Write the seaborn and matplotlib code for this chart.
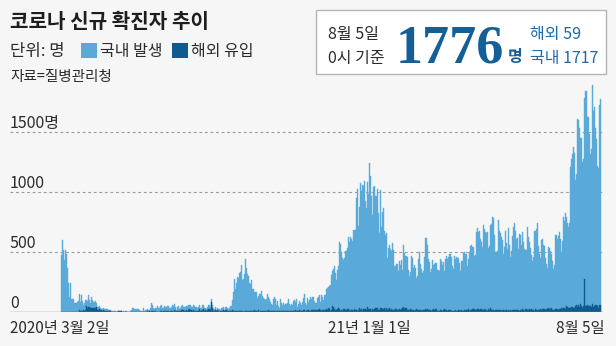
import itertools
import numpy as np
import pandas as pd
import matplotlib
matplotlib.use("Agg")
import matplotlib.pyplot as plt
import matplotlib.transforms as mtransforms
from matplotlib.patches import Rectangle
import seaborn as sns

# ---------------- data: daily new cases (0시 기준), 2020-03-02 .. 2021-08-05 ----------------
total_2020_03 = [476, 600, 516, 438, 518, 483, 367, 248, 131, 242, 114, 110, 107, 76, 74, 84, 93, 152, 87, 147,
                 98, 64, 76, 100, 104, 91, 146, 105, 78, 125]
total_2020_04 = [101, 89, 86, 94, 81, 47, 47, 53, 39, 27, 30, 32, 25, 27, 27, 22, 22, 18, 8, 13,
                 9, 11, 8, 6, 10, 10, 10, 14, 9, 4]
total_2020_05 = [9, 6, 13, 8, 3, 2, 4, 12, 18, 34, 35, 27, 26, 29, 27, 19, 13, 15, 13, 32,
                 12, 20, 23, 25, 16, 19, 40, 79, 58, 39, 27]
total_2020_06 = [35, 38, 49, 39, 39, 51, 57, 38, 38, 50, 45, 56, 49, 37, 34, 43, 59, 49, 67, 48,
                 17, 46, 51, 28, 39, 51, 62, 42, 42, 43]
total_2020_07 = [51, 54, 63, 63, 61, 48, 44, 63, 50, 45, 35, 44, 62, 33, 39, 61, 60, 39, 34, 26,
                 45, 63, 59, 41, 113, 58, 25, 28, 48, 18, 36]
total_2020_08 = [31, 30, 23, 34, 33, 43, 20, 43, 36, 28, 34, 54, 56, 103, 166, 279, 197, 246, 297, 288,
                 324, 332, 397, 266, 280, 320, 441, 371, 323, 299, 248]
total_2020_09 = [235, 267, 195, 198, 168, 167, 119, 136, 156, 155, 176, 136, 121, 109, 106, 113, 153, 126, 110, 82,
                 70, 61, 110, 125, 114, 61, 95, 50, 38, 113]
total_2020_10 = [77, 63, 75, 64, 73, 75, 114, 69, 54, 72, 58, 97, 102, 84, 110, 47, 73, 91, 76, 58,
                 89, 121, 155, 77, 61, 119, 88, 103, 125, 114, 127]
total_2020_11 = [124, 97, 75, 118, 125, 145, 89, 143, 126, 100, 146, 143, 191, 205, 208, 223, 230, 313, 343, 363,
                 386, 330, 271, 349, 382, 583, 569, 503, 450, 438]
total_2020_12 = [451, 511, 540, 629, 583, 631, 615, 594, 686, 682, 689, 950, 1030, 718, 880, 1078, 1014, 1062, 1053, 1097,
                 926, 867, 1090, 985, 1241, 1132, 970, 808, 1045, 1050, 967]
total_2021_01 = [1029, 824, 657, 1020, 715, 840, 869, 674, 641, 665, 451, 537, 562, 524, 513, 580, 520, 389, 386, 404,
                 401, 346, 431, 392, 437, 349, 559, 497, 469, 458, 355]
total_2021_02 = [305, 336, 467, 451, 370, 393, 372, 289, 303, 444, 504, 403, 362, 326, 344, 457, 621, 621, 561, 448,
                 416, 332, 357, 440, 396, 406, 415, 355]
total_2021_03 = [355, 344, 444, 424, 398, 416, 346, 446, 470, 446, 465, 488, 490, 459, 382, 363, 469, 445, 463, 452,
                 456, 415, 346, 428, 430, 494, 505, 482, 382, 447, 506]
total_2021_04 = [551, 557, 543, 543, 473, 478, 668, 700, 671, 677, 614, 587, 542, 731, 698, 673, 658, 672, 532, 549,
                 731, 735, 797, 785, 644, 500, 512, 769, 680, 661]
total_2021_05 = [627, 606, 488, 541, 676, 574, 525, 701, 564, 463, 511, 635, 715, 747, 681, 610, 619, 528, 654, 646,
                 561, 666, 585, 530, 516, 707, 629, 587, 533, 480, 430]
total_2021_06 = [459, 677, 681, 695, 744, 556, 485, 454, 602, 611, 565, 556, 452, 399, 373, 545, 540, 507, 482, 429,
                 357, 395, 645, 610, 634, 668, 614, 501, 595, 794]
total_2021_07 = [762, 826, 794, 743, 711, 746, 1212, 1275, 1316, 1378, 1324, 1100, 1150, 1615, 1600, 1536, 1452, 1454, 1252, 1278,
                 1784, 1842, 1630, 1629, 1487, 1318, 1365, 1896, 1674, 1710, 1539]
total_2021_08 = [1442, 1219, 1202, 1725, 1776]

overseas_2020_03 = [2, 1, 1, 0, 3, 1, 2, 1, 3, 2, 6, 4, 2, 6, 3, 5, 6, 17, 13, 13,
                    14, 19, 14, 21, 51, 39, 41, 41, 39, 38]
overseas_2020_04 = [36, 36, 37, 40, 41, 22, 22, 29, 18, 18, 15, 16, 14, 11, 11, 10, 10, 8, 4, 6,
                    5, 5, 4, 4, 6, 9, 7, 9, 8, 2]
overseas_2020_05 = [6, 3, 5, 5, 1, 2, 1, 3, 1, 4, 6, 1, 1, 4, 4, 4, 4, 5, 1, 3,
                    1, 5, 4, 9, 0, 11, 3, 11, 9, 9, 6]
overseas_2020_06 = [10, 6, 3, 5, 3, 8, 8, 2, 8, 9, 7, 8, 13, 3, 10, 9, 13, 5, 18, 11,
                    7, 12, 9, 10, 11, 19, 19, 20, 12, 12]
overseas_2020_07 = [16, 10, 19, 27, 18, 22, 11, 23, 15, 12, 14, 9, 26, 11, 8, 19, 26, 12, 16, 11,
                    19, 30, 27, 16, 86, 33, 14, 13, 18, 10, 19]
overseas_2020_08 = [11, 4, 8, 14, 13, 21, 11, 21, 11, 8, 14, 12, 9, 18, 11, 12, 9, 11, 9, 14,
                    9, 10, 10, 8, 6, 12, 7, 12, 15, 11, 10]
overseas_2020_09 = [9, 11, 14, 8, 16, 15, 11, 16, 6, 12, 15, 15, 11, 7, 15, 8, 8, 16, 10, 9,
                    15, 11, 12, 15, 15, 9, 9, 10, 15, 13]
overseas_2020_10 = [14, 11, 12, 8, 9, 15, 12, 9, 9, 9, 12, 10, 11, 17, 13, 12, 11, 17, 12, 11,
                    14, 17, 20, 6, 15, 23, 16, 14, 15, 20, 22]
overseas_2020_11 = [23, 16, 16, 20, 21, 29, 18, 10, 21, 20, 20, 22, 29, 23, 32, 30, 10, 18, 50, 43,
                    24, 23, 16, 31, 33, 30, 14, 16, 13, 24]
overseas_2020_12 = [31, 18, 24, 29, 14, 16, 20, 16, 15, 27, 16, 22, 10, 18, 32, 22, 26, 14, 25, 26,
                    27, 23, 42, 30, 25, 25, 15, 24, 21, 25, 35]
overseas_2021_01 = [36, 21, 16, 35, 34, 26, 31, 32, 20, 34, 19, 26, 38, 19, 26, 22, 20, 17, 27, 26,
                    16, 16, 27, 20, 25, 36, 43, 28, 35, 19, 21]
overseas_2021_02 = [20, 30, 16, 20, 20, 15, 16, 24, 16, 22, 21, 16, 13, 19, 18, 22, 30, 20, 26, 18,
                    17, 17, 14, 23, 31, 16, 25, 11]
overseas_2021_03 = [11, 14, 22, 18, 15, 17, 26, 21, 17, 12, 19, 21, 17, 14, 15, 14, 14, 16, 15, 14,
                    20, 20, 13, 16, 13, 13, 18, 19, 20, 24, 14]
overseas_2021_04 = [18, 22, 26, 26, 27, 23, 16, 25, 28, 21, 27, 31, 19, 23, 24, 19, 23, 14, 26, 22,
                    32, 16, 19, 19, 14, 23, 16, 20, 19, 18]
overseas_2021_05 = [12, 17, 17, 12, 22, 16, 13, 18, 11, 18, 12, 22, 18, 22, 16, 20, 20, 17, 15, 18,
                    20, 25, 17, 14, 28, 20, 18, 26, 19, 26, 21]
overseas_2021_06 = [22, 12, 25, 18, 17, 20, 22, 30, 21, 24, 25, 26, 19, 28, 27, 36, 24, 25, 33, 22,
                    23, 19, 26, 24, 22, 24, 28, 32, 31, 32]
overseas_2021_07 = [37, 31, 51, 46, 40, 35, 37, 48, 43, 36, 34, 50, 59, 48, 64, 48, 66, 52, 38, 55,
                    280, 50, 60, 52, 55, 53, 47, 73, 45, 51, 63]
overseas_2021_08 = [63, 54, 38, 58, 59]

ytick_values = [0, 500, 1000, 1500]
ytick_labels = ["0", "500", "1000", "1500명"]
xlabel_left, xlabel_mid, xlabel_right = "2020년 3월 2일", "21년 1월 1일", "8월 5일"

title = "코로나 신규 확진자 추이"
unit_text = "단위: 명"
legend_labels = ["국내 발생", "해외 유입"]
source_text = "자료=질병관리청"
box_date = ["8월 5일", "0시 기준"]
box_total = "1776"
box_unit = "명"
box_split = ["해외 59", "국내 1717"]

total = list(itertools.chain(total_2020_03, total_2020_04, total_2020_05, total_2020_06, total_2020_07,
                             total_2020_08, total_2020_09, total_2020_10, total_2020_11, total_2020_12,
                             total_2021_01, total_2021_02, total_2021_03, total_2021_04, total_2021_05,
                             total_2021_06, total_2021_07, total_2021_08))
overseas = list(itertools.chain(overseas_2020_03, overseas_2020_04, overseas_2020_05, overseas_2020_06,
                                overseas_2020_07, overseas_2020_08, overseas_2020_09, overseas_2020_10,
                                overseas_2020_11, overseas_2020_12, overseas_2021_01, overseas_2021_02,
                                overseas_2021_03, overseas_2021_04, overseas_2021_05, overseas_2021_06,
                                overseas_2021_07, overseas_2021_08))
n = min(len(total), len(overseas))
df = pd.DataFrame({"day": np.arange(n), "total": total[:n], "overseas": overseas[:n]})

# ---------------- style ----------------
BG = "#f6f6f6"
LIGHT = "#5aaad9"
DARK = "#0f5a8e"
NAVY = "#145f98"
TXT = "#2b2b2b"
KR = ["Liberation Sans Narrow", "Noto Sans CJK KR", "DejaVu Sans"]
KRB = ["Noto Sans CJK KR", "DejaVu Sans"]

W, H = 616, 346
fig = plt.figure(figsize=(W / 100, H / 100), dpi=100)
fig.patch.set_facecolor(BG)


def fx(px):
    return px / W


def fy(py):
    return 1 - py / H


AX_L, AX_R, AX_B, AX_T = 10, 603, 312.3, 80
ax = fig.add_axes([fx(AX_L), fy(AX_B), fx(AX_R) - fx(AX_L), fy(AX_T) - fy(AX_B)])
ax.set_facecolor(BG)

sns.barplot(data=df, x="day", y="total", native_scale=True, color=LIGHT, saturation=1,
            width=1, errorbar=None, linewidth=0.3, edgecolor=LIGHT, ax=ax, zorder=2)
sns.barplot(data=df, x="day", y="overseas", native_scale=True, color=DARK, saturation=1,
            width=1, errorbar=None, linewidth=0.3, edgecolor=DARK, ax=ax, zorder=3)

px_per_day = (601 - 61) / n
x_left = -0.5 - (61 - AX_L) / px_per_day
x_right = (n - 0.5) + (AX_R - 601) / px_per_day
ax.set_xlim(x_left, x_right)
ymax = (AX_B - AX_T) / 0.12
ax.set_ylim(0, ymax)

for v in ytick_values[1:]:
    ax.axhline(v, color="#9a9a9a", lw=0.8, ls=(0, (2.5, 2.5)), zorder=1)
ax.axhline(0, color="#8c8c8c", lw=1.0, zorder=4)

ax.set_xticks([])
ax.set_yticks([])
ax.set_xlabel("")
ax.set_ylabel("")
for s in ax.spines.values():
    s.set_visible(False)

# y labels above gridlines
ytrans = mtransforms.blended_transform_factory(ax.transAxes, ax.transData)
ytrans = ytrans + mtransforms.ScaledTranslation(0, 4 / 100, fig.dpi_scale_trans)
for v, lab in zip(ytick_values, ytick_labels):
    ax.text(0, v, lab, transform=ytrans, ha="left", va="baseline",
            fontsize=11.5, color=TXT, family=KR)

# x labels
xl_y = fy(333)
fig.text(fx(10), xl_y, xlabel_left, ha="left", va="baseline", fontsize=11, color=TXT, family=KR)
fig.text(fx(369.5), xl_y, xlabel_mid, ha="center", va="baseline", fontsize=11, color=TXT, family=KR)
fig.text(fx(604), xl_y, xlabel_right, ha="right", va="baseline", fontsize=11, color=TXT, family=KR)

# header
fig.text(fx(10), fy(28.5), title, ha="left", va="baseline", fontsize=14.5, fontweight="bold",
         color="#1e1e1e", family=KRB)
fig.text(fx(10), fy(56), unit_text, ha="left", va="baseline", fontsize=12, color=TXT, family=KR)
fig.patches.append(Rectangle((fx(81), fy(58.3)), fx(97) - fx(81), fy(42.7) - fy(58.3),
                             transform=fig.transFigure, facecolor=LIGHT, edgecolor="none"))
fig.text(fx(100), fy(56), legend_labels[0], ha="left", va="baseline", fontsize=11.5, color=TXT, family=KR)
fig.patches.append(Rectangle((fx(172), fy(58.3)), fx(188) - fx(172), fy(42.7) - fy(58.3),
                             transform=fig.transFigure, facecolor=DARK, edgecolor="none"))
fig.text(fx(191), fy(56), legend_labels[1], ha="left", va="baseline", fontsize=11.5, color=TXT, family=KR)
fig.text(fx(10), fy(81), source_text, ha="left", va="baseline", fontsize=10.5, color=TXT, family=KR)

# info box
fig.patches.append(Rectangle((fx(316), fy(74)), fx(606) - fx(316), fy(10) - fy(74),
                             transform=fig.transFigure, facecolor="#ffffff", edgecolor="#b5b5b5", lw=1.0))
fig.text(fx(328), fy(39), box_date[0], ha="left", va="baseline", fontsize=11.5, color=TXT, family=KR)
fig.text(fx(328), fy(62.5), box_date[1], ha="left", va="baseline", fontsize=11.5, color=TXT, family=KR)
fig.text(fx(396), fy(62.5), box_total, ha="left", va="baseline", fontsize=39, fontweight="bold",
         color=NAVY, family=["Liberation Serif", "DejaVu Serif"])
fig.text(fx(508), fy(62), box_unit, ha="left", va="baseline", fontsize=11.5, fontweight="bold",
         color=NAVY, family=KRB)
fig.text(fx(530), fy(39), box_split[0], ha="left", va="baseline", fontsize=11.5, color="#1f69a6", family=KR)
fig.text(fx(530), fy(62.5), box_split[1], ha="left", va="baseline", fontsize=11.5, color="#1f69a6", family=KR)

fig.savefig("out.png", dpi=100, facecolor=BG)
